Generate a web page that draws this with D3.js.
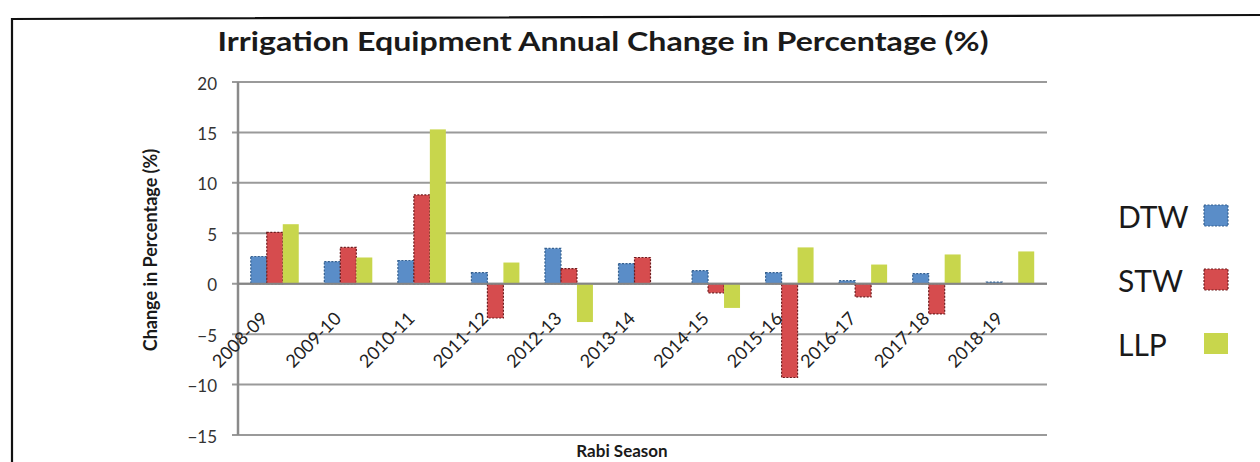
<!DOCTYPE html>
<html>
<head>
<meta charset="utf-8">
<script src="https://cdn.jsdelivr.net/npm/d3@7"></script>
<style>
  html, body { margin: 0; padding: 0; background: #fff; }
  svg { display: block; font-family: Lato, "Open Sans", sans-serif; }
  .grid line { stroke: #9a9a9a; stroke-width: 2; }
  .y.axis text { fill: #333; font-size: 17px; }
  .x-label { fill: #222; font-size: 18px; }
</style>
</head>
<body>
<div id="chart-area"><svg></svg></div>
<script>
const seasons = ["2008-09", "2009-10", "2010-11", "2011-12", "2012-13", "2013-14",
  "2014-15", "2015-16", "2016-17", "2017-18", "2018-19"];
const seriesNames = ["DTW", "STW", "LLP"];
const dtw = [2.7, 2.2, 2.3, 1.1, 3.5, 2.0, 1.3, 1.1, 0.3, 1.0, 0.15];
const stw = [5.1, 3.6, 8.8, -3.4, 1.5, 2.6, -0.9, -9.3, -1.3, -3.0, 0];
const llp = [5.9, 2.6, 15.3, 2.1, -3.8, 0, -2.4, 3.6, 1.9, 2.9, 3.2];
const yTicks = [20, 15, 10, 5, 0, -5, -10, -15];

const colors = { DTW: "#5a8dc8", STW: "#d64c4e", LLP: "#c8d64c" };
const strokes = { DTW: "#35608f", STW: "#6e1c1e", LLP: "none" };

const chartSize = { width: 1260, height: 462 };
const plot = { left: 238, right: 1047, top: 82, bottom: 435 };

const svg = d3.select("#chart-area svg")
  .attr("width", chartSize.width)
  .attr("height", chartSize.height);

// scanned page frame
svg.append("path")
  .attr("d", "M12,462 L12,19 L1260,15")
  .attr("fill", "none")
  .attr("stroke", "#111")
  .attr("stroke-width", 2.2);

const x = d3.scaleBand()
  .domain(seasons)
  .range([plot.left, plot.right]);

const inner = d3.scaleBand()
  .domain(seriesNames)
  .range([0, x.bandwidth() * 3 / 4.6]);

const y = d3.scaleLinear()
  .domain([-15, 20])
  .range([plot.bottom, plot.top]);

svg.append("g")
  .attr("class", "grid")
  .selectAll("line")
  .data(yTicks)
  .enter()
  .append("line")
  .attr("x1", plot.left - 6)
  .attr("x2", plot.right)
  .attr("y1", d => y(d))
  .attr("y2", d => y(d));

const yAxis = d3.axisLeft(y).tickValues(yTicks).tickSize(0).tickPadding(21);
svg.append("g")
  .attr("class", "y axis")
  .attr("transform", `translate(${plot.left},0)`)
  .call(yAxis)
  .call(g => g.select(".domain").remove())
  .selectAll("text")
  .attr("dy", "0.42em")
  .style("font-family", "Lato, sans-serif");

svg.append("line")
  .attr("x1", plot.left).attr("x2", plot.left)
  .attr("y1", plot.top).attr("y2", plot.bottom)
  .attr("stroke", "#8a8a8a")
  .attr("stroke-width", 2.5);

const rows = seasons.map((s, i) => ({ season: s, DTW: dtw[i], STW: stw[i], LLP: llp[i] }));
const offset = (x.bandwidth() - inner.range()[1]) / 2;

const groups = svg.append("g")
  .selectAll("g")
  .data(rows)
  .enter()
  .append("g")
  .attr("transform", d => `translate(${x(d.season) + offset},0)`);

groups.selectAll("rect")
  .data(d => seriesNames.map(k => ({ key: k, value: d[k] })))
  .enter()
  .filter(d => d.value !== 0)
  .append("rect")
  .attr("x", d => inner(d.key))
  .attr("width", inner.bandwidth())
  .attr("y", d => y(Math.max(0, d.value)))
  .attr("height", d => Math.abs(y(d.value) - y(0)))
  .attr("fill", d => colors[d.key])
  .attr("stroke", d => strokes[d.key])
  .attr("stroke-width", 1.2)
  .attr("stroke-dasharray", "2,1.5");

svg.append("line")
  .attr("x1", plot.left).attr("x2", plot.right)
  .attr("y1", y(0)).attr("y2", y(0))
  .attr("stroke", "#858585")
  .attr("stroke-width", 2);

svg.append("g")
  .selectAll("text")
  .data(seasons)
  .enter()
  .append("text")
  .attr("class", "x-label")
  .attr("text-anchor", "end")
  .attr("transform", d => `translate(${x(d) + x.bandwidth() / 2 - 6},${y(0) + 36}) rotate(-45)`)
  .text(d => d);

svg.append("text")
  .attr("x", 603)
  .attr("y", 51)
  .attr("text-anchor", "middle")
  .attr("font-weight", "bold")
  .attr("font-size", 27)
  .attr("textLength", 771)
  .attr("lengthAdjust", "spacingAndGlyphs")
  .attr("fill", "#1a1a1a")
  .text("Irrigation Equipment Annual Change in Percentage (%)");

svg.append("text")
  .attr("transform", "translate(157,250) rotate(-90)")
  .attr("text-anchor", "middle")
  .attr("font-weight", "bold")
  .attr("font-size", 18)
  .attr("fill", "#1a1a1a")
  .text("Change in Percentage (%)");

svg.append("text")
  .attr("x", 622)
  .attr("y", 457)
  .attr("text-anchor", "middle")
  .attr("font-weight", "bold")
  .attr("font-size", 17)
  .attr("fill", "#1a1a1a")
  .text("Rabi Season");

const legend = svg.append("g")
  .selectAll("g")
  .data(seriesNames)
  .enter()
  .append("g")
  .attr("transform", (d, i) => `translate(1118,${228 + i * 64})`);

legend.append("text")
  .attr("font-size", 30)
  .attr("fill", "#1a1a1a")
  .text(d => d);

legend.append("rect")
  .attr("x", 86)
  .attr("y", -23)
  .attr("width", 24)
  .attr("height", 21)
  .attr("fill", d => colors[d])
  .attr("stroke", d => strokes[d])
  .attr("stroke-width", 1.2)
  .attr("stroke-dasharray", "2,1.5");
</script>
</body>
</html>
